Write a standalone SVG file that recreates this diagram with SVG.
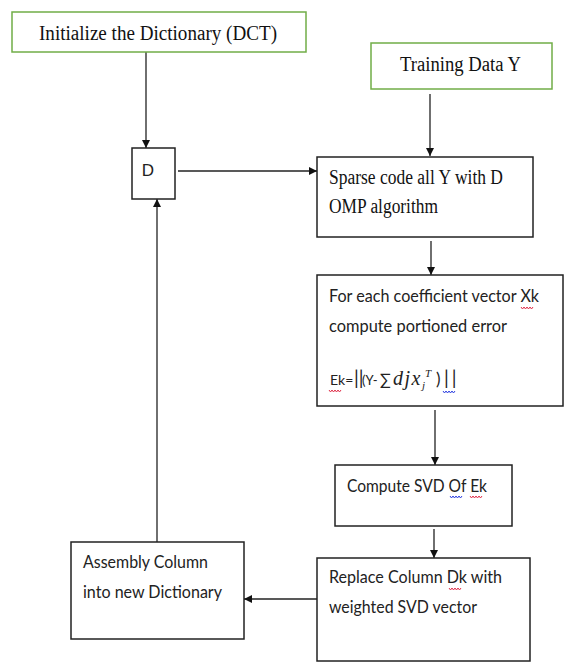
<svg xmlns="http://www.w3.org/2000/svg" width="564" height="662" viewBox="0 0 564 662">
<defs>
<style>
.g{fill:#fff;stroke:#70ad47;stroke-width:1.5}
.b{fill:#fff;stroke:#222;stroke-width:1.5}
.tr{font-family:"Liberation Serif",serif;font-size:20px;fill:#111}
.ca{font-family:Lato,"Open Sans",sans-serif;font-size:17px;fill:#222}
.mi{font-family:"Liberation Serif",serif;font-style:italic}
.c{stroke:#222;stroke-width:1.3;fill:none}
.sr{stroke:#e0304a;stroke-width:1;fill:none}
.sb{stroke:#2d3fe0;stroke-width:1;fill:none}
</style>
<marker id="ah" viewBox="0 0 10 10" refX="10" refY="5" markerWidth="8" markerHeight="8" markerUnits="userSpaceOnUse" orient="auto">
<path d="M0,0 L10,5 L0,10 z" fill="#111"/>
</marker>
</defs>
<rect width="564" height="662" fill="#fff"/>
<g id="connectors">
<line class="c" x1="146" y1="52" x2="146" y2="148" marker-end="url(#ah)"/>
<line class="c" x1="178" y1="171" x2="317" y2="171" marker-end="url(#ah)"/>
<line class="c" x1="430" y1="94" x2="430" y2="156" marker-end="url(#ah)"/>
<line class="c" x1="431" y1="241" x2="431" y2="275" marker-end="url(#ah)"/>
<line class="c" x1="435" y1="410" x2="435" y2="465" marker-end="url(#ah)"/>
<line class="c" x1="434" y1="529" x2="434" y2="558" marker-end="url(#ah)"/>
<line class="c" x1="317" y1="599" x2="244" y2="599" marker-end="url(#ah)"/>
<line class="c" x1="157" y1="542" x2="157" y2="199" marker-end="url(#ah)"/>
</g>
<g id="init">
<rect class="g" x="12" y="12" width="294" height="40"/>
<text class="tr" x="39" y="40" textLength="238" lengthAdjust="spacingAndGlyphs">Initialize the Dictionary (DCT)</text>
</g>
<g id="training">
<rect class="g" x="371" y="43" width="181" height="46"/>
<text class="tr" x="400" y="71" textLength="121" lengthAdjust="spacingAndGlyphs">Training Data Y</text>
</g>
<g id="d">
<rect class="b" x="132" y="148" width="43" height="51"/>
<text x="148" y="176" text-anchor="middle" style="font-family:'Liberation Sans',sans-serif;font-size:17px;fill:#222">D</text>
</g>
<g id="sparse">
<rect class="b" x="317" y="157" width="216" height="80"/>
<text class="tr" x="329" y="184" textLength="174" lengthAdjust="spacingAndGlyphs">Sparse code all Y with D</text>
<text class="tr" x="329" y="213" textLength="109" lengthAdjust="spacingAndGlyphs">OMP algorithm</text>
</g>
<g id="error">
<rect class="b" x="317" y="275" width="246" height="131"/>
<text class="ca" x="329" y="302" textLength="210" lengthAdjust="spacingAndGlyphs">For each coefficient vector Xk</text>
<path class="sr" d="M521,307 l1.5,2 l1.5,-2 l1.5,2 l1.5,-2 l1.5,2 l1.5,-2 l1.5,2 l1.5,-2"/>
<text class="ca" x="329" y="332" textLength="178" lengthAdjust="spacingAndGlyphs">compute portioned error</text>
<text class="ca" y="385"><tspan x="330" font-size="14">Ek=</tspan><tspan x="354" font-size="19">||</tspan><tspan x="362" font-size="13">(Y-</tspan><tspan x="380" font-size="16">∑</tspan><tspan x="393" class="mi" font-size="20" letter-spacing="1.5">djx</tspan><tspan x="422" dy="4" class="mi" font-size="11">j</tspan><tspan x="425" dy="-12" class="mi" font-size="11">T</tspan><tspan x="436" dy="8">)</tspan><tspan x="444" font-size="19" letter-spacing="3">||</tspan></text>
<path class="sr" d="M329,390 l1.5,2 l1.5,-2 l1.5,2 l1.5,-2 l1.5,2 l1.5,-2 l1.5,2 l1.5,-2"/>
<path class="sb" d="M443,391 l1.5,2 l1.5,-2 l1.5,2 l1.5,-2 l1.5,2 l1.5,-2 l1.5,2 l1.5,-2"/>
</g>
<g id="svd">
<rect class="b" x="335" y="465" width="177" height="61"/>
<text class="ca" x="347" y="492" textLength="140" lengthAdjust="spacingAndGlyphs">Compute SVD Of Ek</text>
<path class="sb" d="M450,496 l1.5,2 l1.5,-2 l1.5,2 l1.5,-2 l1.5,2 l1.5,-2 l1.5,2 l1.5,-2"/>
<path class="sr" d="M470,496 l1.5,2 l1.5,-2 l1.5,2 l1.5,-2 l1.5,2 l1.5,-2 l1.5,2 l1.5,-2"/>
</g>
<g id="replace">
<rect class="b" x="317" y="558" width="213" height="103"/>
<text class="ca" x="329" y="583" textLength="173" lengthAdjust="spacingAndGlyphs">Replace Column Dk with</text>
<path class="sr" d="M449,588 l1.5,2 l1.5,-2 l1.5,2 l1.5,-2 l1.5,2 l1.5,-2 l1.5,2 l1.5,-2"/>
<text class="ca" x="329" y="613" textLength="148" lengthAdjust="spacingAndGlyphs">weighted SVD vector</text>
</g>
<g id="assembly">
<rect class="b" x="71" y="542" width="173" height="97"/>
<text class="ca" x="83" y="568" textLength="125" lengthAdjust="spacingAndGlyphs">Assembly Column</text>
<text class="ca" x="83" y="598" textLength="139" lengthAdjust="spacingAndGlyphs">into new Dictionary</text>
</g>
</svg>
